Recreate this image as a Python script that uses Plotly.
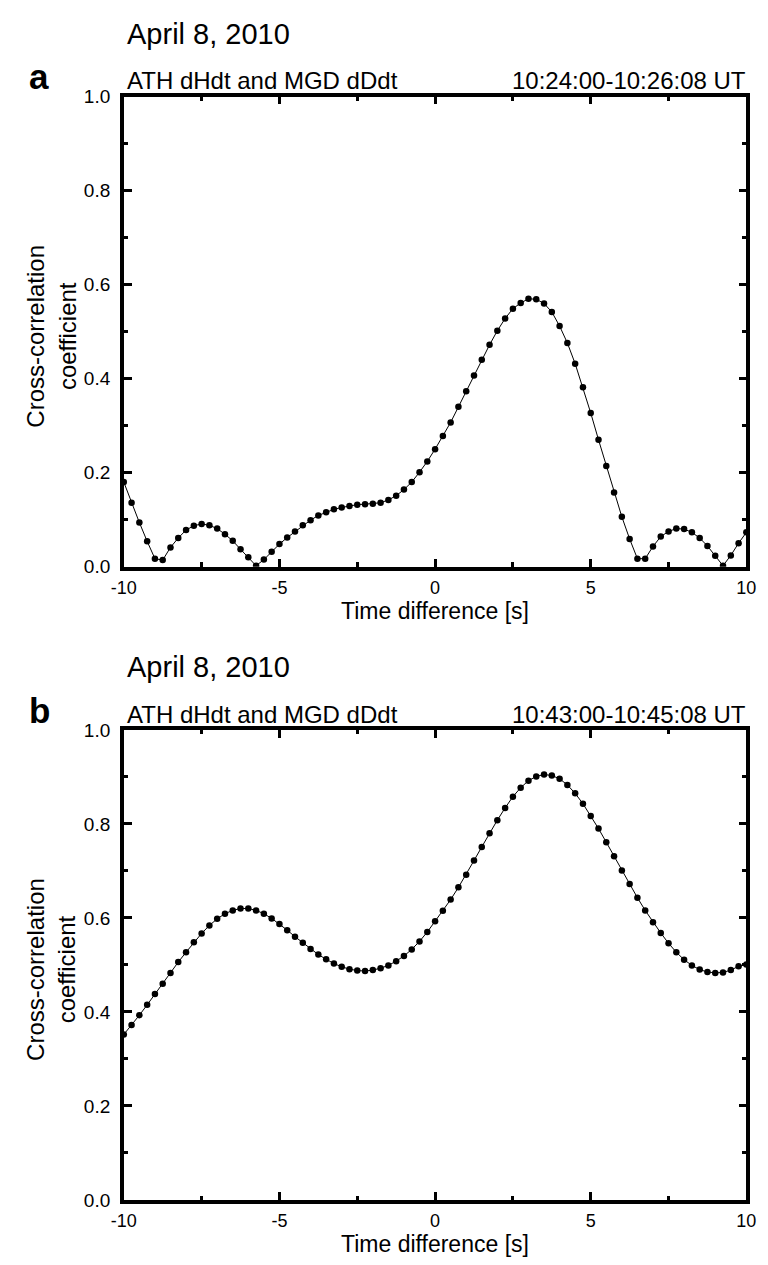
import plotly.graph_objects as go

# the page body has an 8 px margin, so the figure is drawn 8 px smaller
OFF = 8
W, H = 768 - OFF, 1265 - OFF

# time lag, -10 .. 10 s in 0.25 s steps
lags = [i * 0.25 - 10 for i in range(81)]

# panel a: 10:24:00-10:26:08 UT
corr_a = [
    0.180, 0.136, 0.094, 0.054, 0.017, 0.014, 0.041, 0.061, 0.078, 0.087,
    0.091, 0.088, 0.081, 0.069, 0.055, 0.037, 0.020, 0.002, 0.015, 0.032,
    0.048, 0.062, 0.075, 0.088, 0.099, 0.109, 0.116, 0.122, 0.126, 0.129,
    0.132, 0.133, 0.134, 0.136, 0.142, 0.151, 0.164, 0.180, 0.201, 0.224,
    0.250, 0.278, 0.307, 0.340, 0.373, 0.407, 0.440, 0.472, 0.502, 0.528,
    0.549, 0.561, 0.570, 0.569, 0.560, 0.542, 0.512, 0.476, 0.432, 0.382,
    0.327, 0.270, 0.214, 0.158, 0.106, 0.059, 0.017, 0.017, 0.043, 0.064,
    0.075, 0.081, 0.080, 0.073, 0.061, 0.044, 0.023, 0.002, 0.024, 0.050,
    0.073,
]

# panel b: 10:43:00-10:45:08 UT
corr_b = [
    0.352, 0.372, 0.393, 0.415, 0.438, 0.460, 0.483, 0.506, 0.527, 0.548,
    0.567, 0.584, 0.598, 0.609, 0.616, 0.620, 0.620, 0.616, 0.609, 0.599,
    0.587, 0.574, 0.560, 0.547, 0.534, 0.522, 0.512, 0.503, 0.496, 0.491,
    0.488, 0.487, 0.489, 0.493, 0.499, 0.508, 0.519, 0.533, 0.550, 0.570,
    0.593, 0.615, 0.639, 0.665, 0.692, 0.722, 0.751, 0.780, 0.808, 0.834,
    0.858, 0.877, 0.892, 0.901, 0.905, 0.903, 0.896, 0.883, 0.865, 0.843,
    0.817, 0.790, 0.761, 0.731, 0.701, 0.672, 0.643, 0.616, 0.591, 0.568,
    0.546, 0.527, 0.511, 0.499, 0.490, 0.485, 0.483, 0.484, 0.489, 0.497,
    0.501,
]

panels = [
    ('a', 'April 8, 2010', 'ATH dHdt and MGD dDdt', '10:24:00-10:26:08 UT', corr_a),
    ('b', 'April 8, 2010', 'ATH dHdt and MGD dDdt', '10:43:00-10:45:08 UT', corr_b),
]

FONT = 'Liberation Sans, Arial, Helvetica, sans-serif'
X0, X1 = 114, 756           # plot area left/right, page px
TOPS = [88, 732]            # plot area top, page px
PH = 478                    # plot area height, px


def px(p):
    return (p - OFF) / W


def py(p):
    return 1 - (p - OFF) / H


def font(size, **kw):
    return dict(family=FONT, size=size, color='black', **kw)


fig = go.Figure()
annotations = []

for i, (letter, date, left, right, corr) in enumerate(panels):
    n = '' if i == 0 else str(i + 1)
    top = TOPS[i]
    fig.add_trace(go.Scatter(
        x=lags, y=corr, mode='lines+markers',
        line=dict(color='black', width=1),
        marker=dict(color='black', size=6.5),
        xaxis='x' + n, yaxis='y' + n, showlegend=False,
    ))

    axis_common = dict(
        showline=True, linecolor='black', linewidth=3.5, mirror='ticks',
        ticks='inside', tickcolor='black', tickwidth=2.5, ticklen=8,
        showgrid=False, zeroline=False,
    )
    fig.layout['xaxis' + n] = dict(
        axis_common, domain=[px(X0), px(X1)], range=[-10, 10],
        tickvals=[-10, -5, 0, 5, 10], ticktext=['-10', '-5', '0', '5', '10'],
        minor=dict(ticks='inside', dtick=2.5, tick0=0, ticklen=4.5,
                   tickwidth=2.5, tickcolor='black'),
        tickfont=font(18), ticklabelstandoff=2,
        anchor='y' + n,
    )
    fig.layout['yaxis' + n] = dict(
        axis_common, domain=[py(top + PH), py(top)], range=[0, 1],
        dtick=0.2, tickformat='.1f',
        minor=dict(ticks='inside', dtick=0.1, ticklen=4.5,
                   tickwidth=2.5, tickcolor='black'),
        tickfont=font(19), ticklabelstandoff=6,
        anchor='x' + n,
    )

    annotations += [
        dict(text=date, x=px(115), y=py(top - 64), xanchor='left', yanchor='middle',
             font=font(29)),
        dict(text='<b>' + letter + '</b>', x=px(27), y=py(top - 20), xanchor='center',
             yanchor='middle', font=font(35)),
        dict(text=left, x=px(115), y=py(top - 16), xanchor='left', yanchor='middle',
             font=font(24)),
        dict(text=right, x=px(758), y=py(top - 16), xanchor='right', yanchor='middle',
             font=font(24)),
        dict(text='Time difference [s]', x=px((X0 + X1) / 2), y=py(top + PH + 45),
             xanchor='center', yanchor='middle', font=font(23)),
        dict(text='Cross-correlation<br>coefficient', x=px(39), y=py(top + 244),
             xanchor='center', yanchor='middle', textangle=-90, font=font(24)),
    ]

for a in annotations:
    a.update(xref='paper', yref='paper', showarrow=False)

fig.update_layout(
    width=W, height=H,
    margin=dict(l=0, r=0, t=0, b=0),
    paper_bgcolor='white', plot_bgcolor='white',
    annotations=annotations,
)

fig.write_html('out.html')
